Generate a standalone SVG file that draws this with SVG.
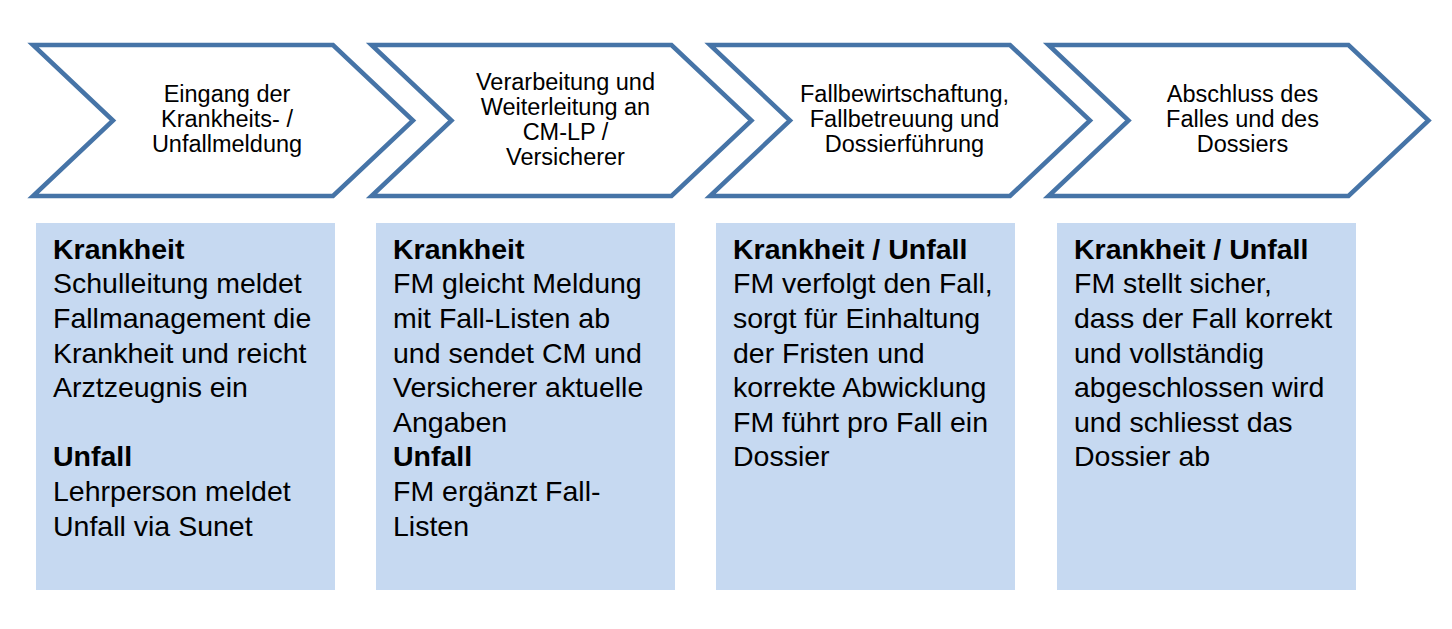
<svg xmlns="http://www.w3.org/2000/svg" width="1452" height="629" viewBox="0 0 1452 629">
<style>
.chev{fill:#ffffff;stroke:#4674a7;stroke-width:4.5;stroke-linejoin:miter}
.ct{font-family:"Liberation Sans",Arial,sans-serif;font-size:23.5px;fill:#000;text-anchor:middle}
.box{fill:#c6d9f1}
.bt{font-family:"Liberation Sans",Arial,sans-serif;font-size:28.5px;fill:#000}
.b{font-weight:bold}
</style>
<rect width="1452" height="629" fill="#ffffff"/>
<g id="step1">
<path class="chev" d="M33,45 H333 L413,120.5 L333,196 H33 L113,120.5 Z"/>
<text class="ct"><tspan x="227" y="102">Eingang der</tspan><tspan x="227" y="127">Krankheits- /</tspan><tspan x="227" y="152">Unfallmeldung</tspan></text>
</g>
<g id="step2">
<path class="chev" d="M371.5,45 H671.5 L751.5,120.5 L671.5,196 H371.5 L451.5,120.5 Z"/>
<text class="ct"><tspan x="565.5" y="89.5">Verarbeitung und</tspan><tspan x="565.5" y="114.5">Weiterleitung an</tspan><tspan x="565.5" y="139.5">CM-LP /</tspan><tspan x="565.5" y="164.5">Versicherer</tspan></text>
</g>
<g id="step3">
<path class="chev" d="M710,45 H1010 L1090,120.5 L1010,196 H710 L790,120.5 Z"/>
<text class="ct"><tspan x="904.5" y="102">Fallbewirtschaftung,</tspan><tspan x="904.5" y="127">Fallbetreuung und</tspan><tspan x="904.5" y="152">Dossierführung</tspan></text>
</g>
<g id="step4">
<path class="chev" d="M1048.5,45 H1348.5 L1428.5,120.5 L1348.5,196 H1048.5 L1128.5,120.5 Z"/>
<text class="ct"><tspan x="1242.5" y="102">Abschluss des</tspan><tspan x="1242.5" y="127">Falles und des</tspan><tspan x="1242.5" y="152">Dossiers</tspan></text>
</g>
<g id="box1">
<rect class="box" x="36" y="223" width="299" height="367"/>
<text class="bt"><tspan class="b" x="53" y="258.7">Krankheit</tspan><tspan x="53" y="293.3">Schulleitung meldet</tspan><tspan x="53" y="327.9">Fallmanagement die</tspan><tspan x="53" y="362.5">Krankheit und reicht</tspan><tspan x="53" y="397.1">Arztzeugnis ein</tspan><tspan class="b" x="53" y="466.3">Unfall</tspan><tspan x="53" y="500.9">Lehrperson meldet</tspan><tspan x="53" y="535.5">Unfall via Sunet</tspan></text>
</g>
<g id="box2">
<rect class="box" x="376" y="223" width="299" height="367"/>
<text class="bt"><tspan class="b" x="393" y="258.7">Krankheit</tspan><tspan x="393" y="293.3">FM gleicht Meldung</tspan><tspan x="393" y="327.9">mit Fall-Listen ab</tspan><tspan x="393" y="362.5">und sendet CM und</tspan><tspan x="393" y="397.1">Versicherer aktuelle</tspan><tspan x="393" y="431.7">Angaben</tspan><tspan class="b" x="393" y="466.3">Unfall</tspan><tspan x="393" y="500.9">FM ergänzt Fall-</tspan><tspan x="393" y="535.5">Listen</tspan></text>
</g>
<g id="box3">
<rect class="box" x="716" y="223" width="299" height="367"/>
<text class="bt"><tspan class="b" x="733" y="258.7">Krankheit / Unfall</tspan><tspan x="733" y="293.3">FM verfolgt den Fall,</tspan><tspan x="733" y="327.9">sorgt für Einhaltung</tspan><tspan x="733" y="362.5">der Fristen und</tspan><tspan x="733" y="397.1">korrekte Abwicklung</tspan><tspan x="733" y="431.7">FM führt pro Fall ein</tspan><tspan x="733" y="466.3">Dossier</tspan></text>
</g>
<g id="box4">
<rect class="box" x="1057" y="223" width="299" height="367"/>
<text class="bt"><tspan class="b" x="1074" y="258.7">Krankheit / Unfall</tspan><tspan x="1074" y="293.3">FM stellt sicher,</tspan><tspan x="1074" y="327.9">dass der Fall korrekt</tspan><tspan x="1074" y="362.5">und vollständig</tspan><tspan x="1074" y="397.1">abgeschlossen wird</tspan><tspan x="1074" y="431.7">und schliesst das</tspan><tspan x="1074" y="466.3">Dossier ab</tspan></text>
</g>
<g id="connectors"></g>
</svg>
